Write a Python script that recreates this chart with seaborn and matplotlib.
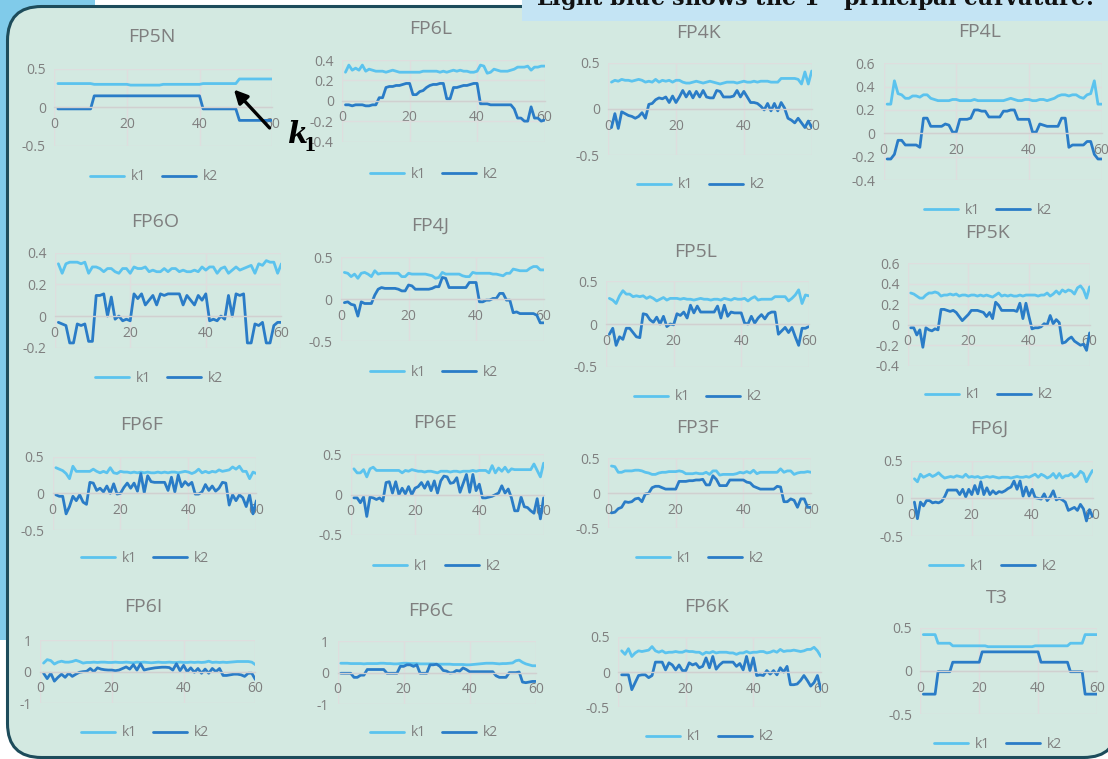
import matplotlib
matplotlib.use("Agg")
import matplotlib.pyplot as plt
import seaborn as sns
import pandas as pd
from matplotlib.patches import FancyBboxPatch, Rectangle, FancyArrowPatch
from matplotlib.transforms import Affine2D
from matplotlib.ticker import FuncFormatter

# ---------------------------------------------------------------- data
positions = list(range(1, 61))

FP5N_k1 = [0.31, 0.31, 0.31, 0.31, 0.31, 0.31, 0.31, 0.31, 0.31, 0.31,
           0.30, 0.30, 0.30, 0.30, 0.30, 0.30, 0.30, 0.30, 0.30, 0.30,
           0.29, 0.29, 0.29, 0.29, 0.29, 0.29, 0.29, 0.29, 0.29, 0.30,
           0.30, 0.30, 0.30, 0.30, 0.30, 0.30, 0.30, 0.30, 0.30, 0.30,
           0.31, 0.31, 0.31, 0.31, 0.31, 0.31, 0.31, 0.31, 0.31, 0.31,
           0.37, 0.37, 0.37, 0.37, 0.37, 0.37, 0.37, 0.37, 0.37, 0.37]
FP5N_k2 = [-0.02, -0.02, -0.02, -0.02, -0.02, -0.02, -0.02, -0.02, -0.02, -0.02,
           0.15, 0.15, 0.15, 0.15, 0.15, 0.15, 0.15, 0.15, 0.15, 0.15,
           0.15, 0.15, 0.15, 0.15, 0.15, 0.15, 0.15, 0.15, 0.15, 0.15,
           0.15, 0.15, 0.15, 0.15, 0.15, 0.15, 0.15, 0.15, 0.15, 0.15,
           -0.02, -0.02, -0.02, -0.02, -0.02, -0.02, -0.02, -0.02, -0.02, -0.02,
           -0.17, -0.17, -0.17, -0.17, -0.17, -0.17, -0.17, -0.17, -0.17, -0.17]

FP6L_k1 = [0.28, 0.35, 0.30, 0.32, 0.30, 0.35, 0.29, 0.31, 0.30, 0.29,
           0.29, 0.29, 0.28, 0.29, 0.30, 0.29, 0.28, 0.28, 0.28, 0.28,
           0.28, 0.28, 0.28, 0.29, 0.29, 0.29, 0.29, 0.29, 0.28, 0.29,
           0.28, 0.29, 0.30, 0.29, 0.30, 0.29, 0.29, 0.28, 0.28, 0.29,
           0.35, 0.34, 0.27, 0.28, 0.31, 0.30, 0.29, 0.29, 0.29, 0.30,
           0.31, 0.33, 0.33, 0.33, 0.34, 0.30, 0.33, 0.33, 0.34, 0.34]
FP6L_k2 = [-0.04, -0.04, -0.05, -0.04, -0.04, -0.04, -0.05, -0.05, -0.04, -0.04,
           0.03, 0.03, 0.13, 0.14, 0.14, 0.15, 0.15, 0.16, 0.17, 0.17,
           0.06, 0.06, 0.09, 0.10, 0.13, 0.15, 0.16, 0.16, 0.17, 0.17,
           0.02, 0.02, 0.13, 0.13, 0.14, 0.15, 0.15, 0.16, 0.17, 0.17,
           -0.03, -0.03, -0.03, -0.04, -0.04, -0.04, -0.04, -0.04, -0.04, -0.04,
           -0.08, -0.17, -0.17, -0.20, -0.20, -0.06, -0.17, -0.17, -0.20, -0.19]

FP4K_k1 = [0.29, 0.31, 0.30, 0.32, 0.31, 0.31, 0.30, 0.31, 0.32, 0.31,
           0.29, 0.30, 0.29, 0.32, 0.29, 0.31, 0.30, 0.31, 0.29, 0.31,
           0.31, 0.29, 0.28, 0.28, 0.29, 0.30, 0.29, 0.28, 0.29, 0.30,
           0.29, 0.28, 0.27, 0.28, 0.29, 0.29, 0.29, 0.28, 0.29, 0.30,
           0.29, 0.29, 0.30, 0.29, 0.30, 0.30, 0.30, 0.29, 0.29, 0.29,
           0.33, 0.33, 0.33, 0.33, 0.33, 0.32, 0.27, 0.40, 0.27, 0.41]
FP4K_k2 = [-0.20, -0.05, -0.21, -0.03, -0.05, -0.07, -0.08, -0.10, -0.08, -0.04,
           -0.10, 0.05, 0.06, 0.10, 0.12, 0.11, 0.13, 0.07, 0.14, 0.07,
           0.13, 0.20, 0.13, 0.19, 0.12, 0.19, 0.13, 0.20, 0.13, 0.12,
           0.12, 0.20, 0.19, 0.13, 0.13, 0.13, 0.14, 0.20, 0.13, 0.19,
           0.13, 0.07, 0.07, 0.06, 0.03, -0.01, 0.06, -0.02, 0.06, -0.02,
           0.07, 0.01, -0.10, -0.12, -0.15, -0.10, -0.15, -0.20, -0.13, -0.20]

FP4L_k1 = [0.25, 0.25, 0.45, 0.34, 0.33, 0.30, 0.30, 0.32, 0.32, 0.31,
           0.33, 0.33, 0.30, 0.29, 0.28, 0.28, 0.28, 0.28, 0.29, 0.29,
           0.28, 0.28, 0.28, 0.28, 0.29, 0.28, 0.28, 0.28, 0.28, 0.28,
           0.28, 0.28, 0.28, 0.29, 0.30, 0.29, 0.28, 0.28, 0.29, 0.29,
           0.28, 0.28, 0.29, 0.29, 0.28, 0.29, 0.30, 0.32, 0.33, 0.33,
           0.32, 0.33, 0.33, 0.31, 0.30, 0.33, 0.34, 0.45, 0.25, 0.25]
FP4L_k2 = [-0.22, -0.22, -0.18, -0.06, -0.06, -0.10, -0.10, -0.10, -0.10, -0.12,
           0.13, 0.13, 0.06, 0.06, 0.06, 0.06, 0.08, 0.07, 0.01, 0.01,
           0.12, 0.12, 0.12, 0.13, 0.20, 0.20, 0.19, 0.19, 0.14, 0.14,
           0.14, 0.14, 0.19, 0.19, 0.20, 0.20, 0.12, 0.12, 0.12, 0.12,
           0.01, 0.01, 0.08, 0.07, 0.06, 0.06, 0.06, 0.06, 0.13, 0.13,
           -0.12, -0.10, -0.10, -0.10, -0.10, -0.07, -0.07, -0.18, -0.22, -0.22]

FP6O_k1 = [0.33, 0.27, 0.33, 0.34, 0.34, 0.34, 0.33, 0.34, 0.27, 0.31,
           0.31, 0.30, 0.28, 0.30, 0.30, 0.28, 0.27, 0.30, 0.30, 0.27,
           0.31, 0.30, 0.30, 0.31, 0.28, 0.29, 0.28, 0.28, 0.30, 0.28,
           0.30, 0.30, 0.28, 0.29, 0.28, 0.28, 0.29, 0.28, 0.31, 0.29,
           0.31, 0.31, 0.27, 0.30, 0.31, 0.27, 0.29, 0.31, 0.29, 0.30,
           0.31, 0.32, 0.27, 0.33, 0.32, 0.35, 0.34, 0.34, 0.27, 0.33]
FP6O_k2 = [-0.04, -0.05, -0.06, -0.17, -0.17, -0.05, -0.06, -0.05, -0.16, -0.16,
           0.13, 0.13, 0.14, 0.00, 0.12, -0.02, 0.00, -0.03, -0.02, -0.03,
           0.14, 0.11, 0.14, 0.07, 0.10, 0.13, 0.07, 0.14, 0.13, 0.14,
           0.14, 0.14, 0.14, 0.07, 0.13, 0.10, 0.07, 0.13, 0.10, 0.14,
           -0.03, -0.02, -0.03, 0.00, -0.02, 0.13, 0.00, 0.14, 0.13, 0.14,
           -0.17, -0.17, -0.05, -0.06, -0.04, -0.17, -0.17, -0.06, -0.04, -0.04]

FP4J_k1 = [0.32, 0.31, 0.27, 0.30, 0.25, 0.31, 0.32, 0.30, 0.27, 0.34,
           0.30, 0.31, 0.31, 0.31, 0.31, 0.31, 0.31, 0.27, 0.27, 0.31,
           0.30, 0.30, 0.30, 0.30, 0.30, 0.29, 0.28, 0.25, 0.26, 0.32,
           0.30, 0.30, 0.30, 0.30, 0.30, 0.28, 0.27, 0.27, 0.32, 0.31,
           0.31, 0.31, 0.31, 0.31, 0.30, 0.30, 0.29, 0.28, 0.31, 0.31,
           0.36, 0.35, 0.34, 0.34, 0.34, 0.37, 0.39, 0.39, 0.35, 0.35]
FP4J_k2 = [-0.04, -0.03, -0.06, -0.07, -0.20, -0.03, -0.05, -0.05, -0.05, 0.05,
           0.12, 0.14, 0.13, 0.13, 0.13, 0.13, 0.12, 0.10, 0.10, 0.17,
           0.16, 0.12, 0.12, 0.12, 0.12, 0.12, 0.13, 0.15, 0.15, 0.26,
           0.25, 0.14, 0.14, 0.14, 0.14, 0.14, 0.14, 0.20, 0.20, 0.20,
           -0.03, -0.03, -0.01, -0.01, 0.01, 0.01, 0.07, 0.07, -0.01, -0.01,
           -0.16, -0.15, -0.17, -0.17, -0.17, -0.17, -0.17, -0.19, -0.28, -0.28]

FP5L_k1 = [0.30, 0.28, 0.24, 0.33, 0.39, 0.35, 0.35, 0.32, 0.33, 0.32,
           0.33, 0.30, 0.32, 0.30, 0.27, 0.29, 0.31, 0.28, 0.30, 0.30,
           0.30, 0.29, 0.30, 0.29, 0.29, 0.28, 0.29, 0.30, 0.29, 0.29,
           0.28, 0.29, 0.29, 0.28, 0.30, 0.29, 0.28, 0.30, 0.29, 0.29,
           0.30, 0.27, 0.30, 0.32, 0.28, 0.29, 0.29, 0.29, 0.29, 0.32,
           0.32, 0.32, 0.32, 0.27, 0.30, 0.34, 0.40, 0.24, 0.34, 0.33]
FP5L_k2 = [-0.12, -0.05, -0.25, -0.15, -0.18, -0.05, -0.05, -0.10, -0.15, -0.16,
           0.12, 0.11, 0.05, 0.02, 0.08, 0.00, 0.09, -0.03, 0.00, -0.01,
           0.12, 0.10, 0.14, 0.07, 0.22, 0.13, 0.21, 0.14, 0.14, 0.14,
           0.14, 0.14, 0.21, 0.07, 0.22, 0.09, 0.14, 0.13, 0.13, 0.13,
           0.01, 0.00, 0.09, 0.01, 0.07, 0.11, 0.06, 0.12, 0.14, 0.14,
           -0.12, -0.08, -0.04, -0.10, -0.04, -0.15, -0.25, -0.05, -0.05, -0.03]

FP5K_k1 = [0.31, 0.30, 0.28, 0.26, 0.26, 0.29, 0.31, 0.31, 0.32, 0.31,
           0.28, 0.29, 0.29, 0.30, 0.29, 0.30, 0.28, 0.29, 0.29, 0.28,
           0.29, 0.29, 0.28, 0.29, 0.28, 0.29, 0.28, 0.27, 0.29, 0.31,
           0.28, 0.29, 0.28, 0.29, 0.28, 0.28, 0.29, 0.28, 0.29, 0.29,
           0.29, 0.29, 0.28, 0.29, 0.29, 0.31, 0.28, 0.30, 0.33, 0.30,
           0.34, 0.32, 0.34, 0.33, 0.30, 0.36, 0.38, 0.34, 0.26, 0.37]
FP5K_k2 = [-0.03, -0.03, -0.10, -0.05, -0.22, -0.03, -0.05, -0.06, -0.04, -0.05,
           0.15, 0.15, 0.14, 0.13, 0.14, 0.12, 0.08, 0.04, 0.07, 0.10,
           0.14, 0.14, 0.14, 0.13, 0.12, 0.08, 0.12, 0.06, 0.22, 0.19,
           0.14, 0.14, 0.14, 0.14, 0.14, 0.13, 0.21, 0.06, 0.21, 0.08,
           -0.04, -0.03, -0.03, -0.02, 0.01, 0.00, 0.09, 0.01, 0.05, 0.02,
           -0.18, -0.17, -0.14, -0.12, -0.16, -0.18, -0.20, -0.19, -0.25, -0.08]

FP6F_k1 = [0.35, 0.33, 0.31, 0.27, 0.20, 0.37, 0.30, 0.30, 0.30, 0.30,
           0.30, 0.33, 0.30, 0.28, 0.30, 0.28, 0.35, 0.28, 0.27, 0.30,
           0.29, 0.29, 0.28, 0.29, 0.28, 0.29, 0.28, 0.29, 0.28, 0.28,
           0.29, 0.28, 0.29, 0.28, 0.29, 0.29, 0.28, 0.29, 0.30, 0.29,
           0.27, 0.29, 0.33, 0.28, 0.30, 0.28, 0.30, 0.29, 0.32, 0.30,
           0.31, 0.32, 0.36, 0.33, 0.37, 0.30, 0.30, 0.20, 0.29, 0.27]
FP6F_k2 = [-0.02, -0.04, -0.04, -0.28, -0.18, -0.04, -0.10, -0.02, -0.12, -0.15,
           0.15, 0.14, 0.04, 0.07, 0.02, 0.10, 0.00, 0.13, -0.01, 0.00,
           0.08, 0.14, 0.07, 0.14, 0.03, 0.27, 0.01, 0.24, 0.16, 0.15,
           0.15, 0.15, 0.15, 0.04, 0.22, 0.02, 0.25, 0.09, 0.16, 0.11,
           0.15, -0.01, -0.01, 0.02, 0.12, 0.04, 0.10, 0.03, 0.07, 0.15,
           0.14, -0.16, -0.02, -0.10, -0.02, -0.06, -0.18, -0.02, -0.28, -0.10]

FP6E_k1 = [0.32, 0.27, 0.27, 0.31, 0.22, 0.32, 0.34, 0.30, 0.30, 0.30,
           0.30, 0.30, 0.30, 0.30, 0.30, 0.27, 0.30, 0.29, 0.31, 0.30,
           0.29, 0.29, 0.28, 0.29, 0.29, 0.28, 0.27, 0.29, 0.29, 0.29,
           0.28, 0.29, 0.29, 0.28, 0.29, 0.29, 0.29, 0.30, 0.29, 0.30,
           0.30, 0.30, 0.27, 0.36, 0.27, 0.33, 0.29, 0.34, 0.28, 0.32,
           0.31, 0.31, 0.31, 0.31, 0.31, 0.31, 0.38, 0.30, 0.22, 0.39]
FP6E_k2 = [-0.04, -0.04, -0.10, -0.03, -0.27, -0.03, -0.04, -0.06, -0.04, -0.08,
           0.15, 0.16, 0.02, 0.16, 0.00, 0.08, 0.01, 0.10, 0.00, 0.08,
           0.10, 0.15, 0.08, 0.16, 0.05, 0.17, 0.02, 0.17, 0.23, 0.22,
           0.14, 0.15, 0.21, 0.03, 0.14, 0.25, 0.03, 0.25, 0.05, 0.13,
           -0.04, -0.04, -0.03, -0.02, 0.00, 0.02, 0.11, 0.02, 0.07, -0.04,
           -0.20, -0.20, -0.03, -0.15, -0.16, -0.20, -0.23, -0.05, -0.30, -0.04]

FP3F_k1 = [0.39, 0.38, 0.30, 0.30, 0.32, 0.32, 0.32, 0.33, 0.33, 0.32,
           0.30, 0.29, 0.27, 0.27, 0.29, 0.30, 0.30, 0.31, 0.31, 0.31,
           0.32, 0.31, 0.28, 0.28, 0.28, 0.29, 0.28, 0.28, 0.30, 0.27,
           0.32, 0.32, 0.26, 0.27, 0.27, 0.27, 0.27, 0.28, 0.30, 0.29,
           0.31, 0.29, 0.33, 0.28, 0.30, 0.30, 0.30, 0.30, 0.30, 0.30,
           0.35, 0.30, 0.32, 0.32, 0.27, 0.29, 0.30, 0.30, 0.31, 0.30]
FP3F_k2 = [-0.28, -0.27, -0.22, -0.20, -0.12, -0.13, -0.12, -0.08, -0.07, -0.12,
           -0.01, 0.00, 0.08, 0.10, 0.10, 0.08, 0.06, 0.06, 0.06, 0.06,
           0.17, 0.17, 0.17, 0.18, 0.18, 0.19, 0.19, 0.20, 0.12, 0.12,
           0.25, 0.20, 0.11, 0.11, 0.11, 0.19, 0.19, 0.19, 0.19, 0.19,
           0.16, 0.15, 0.10, 0.08, 0.06, 0.06, 0.06, 0.06, 0.06, 0.10,
           0.09, -0.12, -0.12, -0.08, -0.10, -0.20, -0.08, -0.08, -0.20, -0.20]

FP6J_k1 = [0.26, 0.22, 0.32, 0.28, 0.30, 0.32, 0.29, 0.31, 0.34, 0.30,
           0.27, 0.28, 0.29, 0.28, 0.30, 0.29, 0.28, 0.32, 0.28, 0.29,
           0.28, 0.29, 0.27, 0.28, 0.29, 0.28, 0.29, 0.28, 0.27, 0.28,
           0.28, 0.28, 0.27, 0.28, 0.29, 0.28, 0.28, 0.29, 0.28, 0.30,
           0.32, 0.28, 0.32, 0.30, 0.27, 0.29, 0.33, 0.27, 0.33, 0.27,
           0.30, 0.30, 0.33, 0.28, 0.30, 0.36, 0.33, 0.22, 0.30, 0.37]
FP6J_k2 = [-0.05, -0.27, -0.05, -0.10, -0.03, -0.03, -0.06, -0.05, -0.06, -0.04,
           0.02, 0.11, 0.11, 0.11, 0.11, 0.05, 0.12, 0.02, 0.12, 0.05,
           0.17, 0.06, 0.22, 0.05, 0.14, 0.05, 0.10, 0.06, 0.09, 0.08,
           0.10, 0.13, 0.15, 0.23, 0.12, 0.23, 0.03, 0.15, 0.03, 0.12,
           0.01, 0.00, -0.01, 0.06, -0.03, 0.02, 0.10, -0.02, 0.00, -0.02,
           -0.05, -0.16, -0.14, -0.12, -0.16, -0.08, -0.14, -0.30, -0.15, -0.24]

FP6I_k1 = [0.27, 0.38, 0.35, 0.24, 0.30, 0.33, 0.30, 0.30, 0.32, 0.36,
           0.32, 0.27, 0.29, 0.29, 0.30, 0.29, 0.30, 0.30, 0.29, 0.29,
           0.30, 0.29, 0.29, 0.30, 0.29, 0.28, 0.30, 0.29, 0.30, 0.29,
           0.28, 0.29, 0.30, 0.29, 0.29, 0.30, 0.29, 0.29, 0.30, 0.29,
           0.29, 0.30, 0.29, 0.30, 0.29, 0.30, 0.33, 0.29, 0.30, 0.29,
           0.30, 0.29, 0.30, 0.31, 0.32, 0.32, 0.32, 0.32, 0.30, 0.22]
FP6I_k2 = [-0.05, -0.22, -0.05, -0.30, -0.18, -0.08, -0.18, -0.05, -0.15, -0.08,
           -0.02, 0.00, 0.01, 0.10, 0.00, 0.12, 0.08, 0.06, 0.05, 0.05,
           0.03, 0.05, 0.10, 0.15, 0.08, 0.22, 0.05, 0.25, 0.05, 0.08,
           0.10, 0.12, 0.13, 0.14, 0.14, 0.13, 0.05, 0.25, 0.03, 0.20,
           0.00, 0.12, -0.02, 0.10, -0.05, 0.08, -0.05, 0.10, 0.00, 0.10,
           -0.12, -0.12, -0.10, -0.08, -0.08, -0.10, -0.15, -0.05, -0.05, -0.25]

FP6C_k1 = [0.30, 0.30, 0.30, 0.29, 0.29, 0.29, 0.29, 0.28, 0.29, 0.29,
           0.29, 0.29, 0.30, 0.30, 0.29, 0.29, 0.28, 0.28, 0.29, 0.30,
           0.30, 0.29, 0.29, 0.29, 0.28, 0.28, 0.28, 0.28, 0.28, 0.27,
           0.27, 0.27, 0.27, 0.27, 0.26, 0.26, 0.26, 0.26, 0.25, 0.25,
           0.26, 0.27, 0.28, 0.29, 0.30, 0.30, 0.30, 0.29, 0.28, 0.29,
           0.29, 0.30, 0.31, 0.38, 0.40, 0.33, 0.28, 0.25, 0.22, 0.22]
FP6C_k2 = [-0.02, -0.02, -0.02, -0.02, -0.15, -0.15, -0.08, -0.08, 0.10, 0.10,
           0.10, 0.10, 0.10, 0.10, -0.02, -0.02, -0.02, -0.02, 0.20, 0.20,
           0.25, 0.25, 0.20, 0.25, -0.02, -0.02, -0.02, 0.25, 0.25, 0.27,
           0.20, 0.07, 0.05, -0.01, 0.00, 0.07, 0.05, 0.15, 0.10, 0.03,
           0.03, 0.03, 0.03, 0.03, 0.03, 0.03, 0.03, -0.10, -0.15, -0.15,
           -0.15, 0.00, 0.00, 0.00, 0.02, -0.30, -0.32, -0.30, -0.28, -0.28]

FP6K_k1 = [0.30, 0.25, 0.33, 0.22, 0.27, 0.30, 0.29, 0.30, 0.31, 0.36,
           0.30, 0.28, 0.30, 0.27, 0.28, 0.28, 0.29, 0.28, 0.28, 0.30,
           0.29, 0.29, 0.28, 0.28, 0.25, 0.28, 0.27, 0.29, 0.27, 0.28,
           0.28, 0.28, 0.27, 0.27, 0.25, 0.27, 0.27, 0.29, 0.27, 0.28,
           0.28, 0.29, 0.29, 0.27, 0.28, 0.30, 0.28, 0.32, 0.29, 0.30,
           0.30, 0.31, 0.30, 0.29, 0.30, 0.32, 0.32, 0.35, 0.30, 0.22]
FP6K_k2 = [-0.04, -0.04, -0.04, -0.25, -0.15, -0.05, -0.04, -0.04, -0.08, -0.05,
           0.14, 0.14, 0.14, 0.03, 0.13, 0.10, 0.03, 0.10, 0.02, 0.02,
           0.13, 0.10, 0.12, 0.06, 0.08, 0.20, 0.06, 0.22, 0.04, 0.10,
           0.14, 0.14, 0.14, 0.14, 0.08, 0.12, 0.03, 0.22, 0.02, 0.20,
           -0.05, -0.04, -0.05, 0.02, -0.03, 0.02, -0.04, 0.06, 0.00, 0.08,
           -0.18, -0.18, -0.17, -0.12, -0.05, -0.12, -0.20, -0.15, -0.05, -0.25]

T3_k1 = [0.42, 0.42, 0.42, 0.42, 0.42, 0.32, 0.32, 0.32, 0.32, 0.32,
         0.29, 0.29, 0.29, 0.29, 0.29, 0.29, 0.29, 0.29, 0.29, 0.29,
         0.29, 0.29, 0.28, 0.28, 0.28, 0.28, 0.28, 0.28, 0.28, 0.28,
         0.28, 0.28, 0.28, 0.28, 0.28, 0.28, 0.28, 0.28, 0.29, 0.29,
         0.29, 0.29, 0.29, 0.29, 0.29, 0.29, 0.29, 0.29, 0.29, 0.29,
         0.32, 0.32, 0.32, 0.32, 0.32, 0.42, 0.42, 0.42, 0.42, 0.42]
T3_k2 = [-0.27, -0.27, -0.27, -0.27, -0.27, -0.01, -0.01, -0.01, -0.01, -0.01,
         0.10, 0.10, 0.10, 0.10, 0.10, 0.10, 0.10, 0.10, 0.10, 0.10,
         0.22, 0.22, 0.22, 0.22, 0.22, 0.22, 0.22, 0.22, 0.22, 0.22,
         0.22, 0.22, 0.22, 0.22, 0.22, 0.22, 0.22, 0.22, 0.22, 0.22,
         0.10, 0.10, 0.10, 0.10, 0.10, 0.10, 0.10, 0.10, 0.10, 0.10,
         -0.01, -0.01, -0.01, -0.01, -0.01, -0.27, -0.27, -0.27, -0.27, -0.27]

panel_names = ["FP5N", "FP6L", "FP4K", "FP4L",
               "FP6O", "FP4J", "FP5L", "FP5K",
               "FP6F", "FP6E", "FP3F", "FP6J",
               "FP6I", "FP6C", "FP6K", "T3"]
series = {
    "FP5N": (FP5N_k1, FP5N_k2), "FP6L": (FP6L_k1, FP6L_k2),
    "FP4K": (FP4K_k1, FP4K_k2), "FP4L": (FP4L_k1, FP4L_k2),
    "FP6O": (FP6O_k1, FP6O_k2), "FP4J": (FP4J_k1, FP4J_k2),
    "FP5L": (FP5L_k1, FP5L_k2), "FP5K": (FP5K_k1, FP5K_k2),
    "FP6F": (FP6F_k1, FP6F_k2), "FP6E": (FP6E_k1, FP6E_k2),
    "FP3F": (FP3F_k1, FP3F_k2), "FP6J": (FP6J_k1, FP6J_k2),
    "FP6I": (FP6I_k1, FP6I_k2), "FP6C": (FP6C_k1, FP6C_k2),
    "FP6K": (FP6K_k1, FP6K_k2), "T3": (T3_k1, T3_k2),
}
y_ranges = {
    "FP5N": (-0.5, 0.5, 0.5), "FP6L": (-0.4, 0.4, 0.2), "FP4K": (-0.5, 0.5, 0.5),
    "FP4L": (-0.4, 0.6, 0.2), "FP6O": (-0.2, 0.4, 0.2), "FP4J": (-0.5, 0.5, 0.5),
    "FP5L": (-0.5, 0.5, 0.5), "FP5K": (-0.4, 0.6, 0.2), "FP6F": (-0.5, 0.5, 0.5),
    "FP6E": (-0.5, 0.5, 0.5), "FP3F": (-0.5, 0.5, 0.5), "FP6J": (-0.5, 0.5, 0.5),
    "FP6I": (-1.0, 1.0, 1.0), "FP6C": (-1.0, 1.0, 1.0), "FP6K": (-0.5, 0.5, 0.5),
    "T3": (-0.5, 0.5, 0.5),
}
x_ticks = [0, 20, 40, 60]

# ---------------------------------------------------------------- layout (pixels from top-left)
# plot box: x of 0, x of 60, y of top, y of bottom; title centre; legend centre
layout = {
    "FP5N": (54.3, 272.1, 69.0, 145.7, (152, 37), (154, 177)),
    "FP6L": (342.1, 544.6, 60.0, 141.5, (431, 29), (434, 174)),
    "FP4K": (608.1, 811.7, 62.7, 155.3, (698, 33), (701, 185)),
    "FP4L": (883.5, 1101.6, 63.3, 180.0, (980, 32), (988, 210)),
    "FP6O": (54.6, 281.4, 252.7, 347.7, (155, 222), (159, 378)),
    "FP4J": (341.0, 543.6, 257.3, 341.3, (430, 226), (434, 372)),
    "FP5L": (606.0, 808.8, 281.3, 366.7, (696, 252), (698, 397)),
    "FP5K": (907.7, 1089.6, 263.3, 365.7, (987, 233), (989, 395)),
    "FP6F": (52.5, 256.4, 456.7, 530.0, (142, 425), (145, 558)),
    "FP6E": (350.7, 543.6, 454.3, 535.0, (435, 423), (437, 566)),
    "FP3F": (608.1, 811.0, 458.3, 528.3, (698, 428), (700, 558)),
    "FP6J": (911.4, 1092.5, 460.7, 536.0, (989, 429), (993, 566)),
    "FP6I": (40.0, 255.4, 640.0, 703.3, (143, 607), (145, 733)),
    "FP6C": (337.5, 535.7, 641.3, 704.0, (431, 611), (434, 733)),
    "FP6K": (618.3, 820.8, 636.7, 707.3, (707, 607), (710, 737)),
    "T3": (920.4, 1096.9, 627.7, 714.0, (997, 598), (998, 744)),
}

# ---------------------------------------------------------------- style
W, H = 1108, 759
K1_COLOR = "#5bc3ee"
K2_COLOR = "#2a7cc7"
PANEL_BG = "#d3e9e1"
GRID = "#dedede"
TEXT = "#7f7f7f"

sns.set_style("white")
plt.rcParams["font.family"] = ["Open Sans", "DejaVu Sans"]
plt.rcParams["axes.unicode_minus"] = False
plt.rcParams["mathtext.fontset"] = "dejavuserif"

fig = plt.figure(figsize=(W / 100, H / 100), dpi=100)
fig.patch.set_facecolor("white")
px = Affine2D().scale(1 / W, -1 / H).translate(0, 1) + fig.transFigure

# backdrop: blue corner block, rounded panel, heading strip
fig.add_artist(Rectangle((0, 0), 95, 640, transform=px, facecolor="#80cbea",
                         edgecolor="none", zorder=-20))
fig.add_artist(FancyBboxPatch((7.5, 6.5), 1110, 751, transform=px,
                              boxstyle="round,pad=0,rounding_size=34",
                              facecolor=PANEL_BG, edgecolor="#1d4c5b",
                              linewidth=2.2, zorder=-15))
fig.add_artist(Rectangle((522, -1), 590, 22, transform=px, facecolor="#c4e4f4",
                         edgecolor="none", zorder=-10))
fig.text(815, 7, r"Light blue shows the 1$^{\mathbf{st}}$ principal curvature!",
         transform=px, ha="center", va="baseline", fontsize=16,
         fontfamily="DejaVu Serif", fontweight="bold", color="#111111")

fmt = FuncFormatter(lambda v, _: f"{v:g}")

for name in panel_names:
    x0, x60, ytop, ybot, (tx, ty), (lx, ly) = layout[name]
    lo, hi, step = y_ranges[name]
    ax = fig.add_axes([x0 / W, 1 - ybot / H, (x60 - x0) / W, (ybot - ytop) / H])
    ax.set_facecolor("none")
    k1, k2 = series[name]
    df = pd.DataFrame({"x": positions, "k1": k1, "k2": k2})
    sns.lineplot(data=df, x="x", y="k1", ax=ax, color=K1_COLOR, linewidth=2.0,
                 label="k1")
    sns.lineplot(data=df, x="x", y="k2", ax=ax, color=K2_COLOR, linewidth=2.0,
                 label="k2")
    ax.set_xlim(0, 60)
    ax.set_ylim(lo, hi)
    n = int(round((hi - lo) / step))
    ax.set_yticks([round(lo + i * step, 2) for i in range(n + 1)])
    ax.set_xticks(x_ticks)
    ax.yaxis.set_major_formatter(fmt)
    ax.xaxis.set_major_formatter(fmt)
    ax.set_xlabel("")
    ax.set_ylabel("")
    ax.grid(True, color=GRID, linewidth=1.0)
    ax.set_axisbelow(True)
    for s in ("top", "right", "left"):
        ax.spines[s].set_visible(False)
    ax.spines["bottom"].set_position(("data", 0))
    ax.spines["bottom"].set_color("#d0d0d0")
    ax.spines["bottom"].set_linewidth(1.0)
    ax.tick_params(axis="both", length=0, labelsize=10, labelcolor=TEXT)
    ax.tick_params(axis="x", pad=7)
    ax.tick_params(axis="y", pad=6)
    fig.text(tx, ty, name, transform=px, ha="center", va="center",
             fontsize=14, color=TEXT)
    handles, labels = ax.get_legend_handles_labels()
    ax.legend(handles, labels, loc="center", bbox_to_anchor=(lx, ly),
              bbox_transform=px, ncol=2, frameon=False, fontsize=10,
              labelcolor=TEXT, handlelength=2.4, handletextpad=0.5,
              columnspacing=1.2)

# pointer to the first principal curvature
fig.add_artist(FancyArrowPatch((271.5, 130), (232, 87.5), transform=px,
                               arrowstyle="-|>", mutation_scale=20,
                               linewidth=2.4, color="black", zorder=10))
fig.text(298, 143, "k", transform=px, ha="center", va="baseline", fontsize=21,
         fontfamily="DejaVu Serif", fontweight="bold", fontstyle="italic",
         color="black", zorder=10)
fig.text(310, 151, "1", transform=px, ha="center", va="baseline", fontsize=13,
         fontfamily="DejaVu Serif", fontweight="bold", color="black", zorder=10)

fig.savefig("out.png", dpi=100, facecolor="white")
